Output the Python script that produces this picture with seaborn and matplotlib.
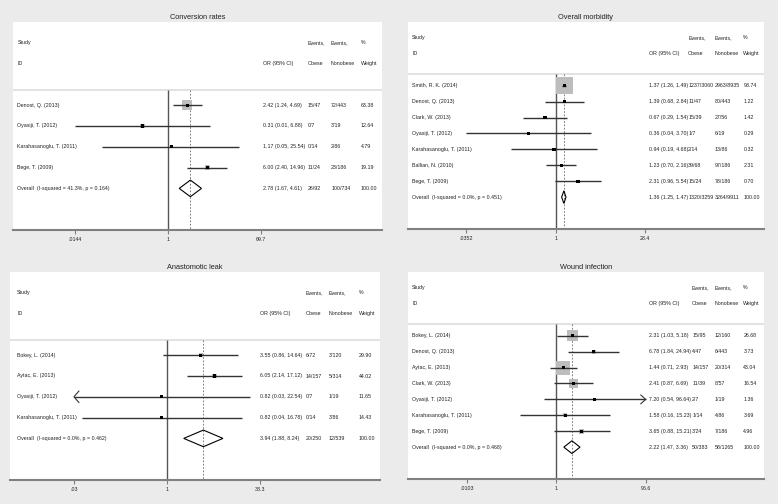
import numpy as np
import pandas as pd
import matplotlib.pyplot as plt
import seaborn as sns
from matplotlib.ticker import NullLocator

# Conversion rates
conv_study = ["Denost, Q. (2013)", "Oyasiji, T. (2012)", "Karahasanoglu, T. (2011)", "Bege, T. (2009)"]
conv_or = [2.42, 0.31, 1.17, 6.00]
conv_lo = [1.24, 0.0144, 0.05, 2.40]
conv_hi = [4.69, 6.88, 25.54, 14.96]
conv_obese = ["15/47", "0/7", "0/14", "11/24"]
conv_nonobese = ["72/443", "3/19", "2/86", "23/186"]
conv_weight = [63.38, 12.64, 4.79, 19.19]
conv_overall = [2.78, 1.67, 4.61]
conv_overall_events = ["26/92", "100/734"]
conv_het = "Overall  (I-squared = 41.3%, p = 0.164)"
conv_ticks = [0.0144, 1, 69.7]
conv_ticklabels = [".0144", "1", "69.7"]

# Overall morbidity
morb_study = ["Smith, R. K. (2014)", "Denost, Q. (2013)", "Clark, W. (2013)", "Oyasiji, T. (2012)",
              "Karahasanoglu, T. (2011)", "Ballian, N. (2010)", "Bege, T. (2009)"]
morb_or = [1.37, 1.39, 0.67, 0.36, 0.94, 1.23, 2.31]
morb_lo = [1.26, 0.68, 0.29, 0.0352, 0.19, 0.70, 0.96]
morb_hi = [1.49, 2.84, 1.54, 3.70, 4.68, 2.16, 5.54]
morb_obese = ["1237/3060", "11/47", "15/39", "1/7", "2/14", "39/68", "15/24"]
morb_nonobese = ["2963/8935", "80/443", "27/56", "6/19", "13/86", "97/186", "78/186"]
morb_weight = [93.74, 1.22, 1.42, 0.29, 0.32, 2.31, 0.70]
morb_overall = [1.36, 1.25, 1.47]
morb_overall_events = ["1320/3259", "3264/9911"]
morb_het = "Overall  (I-squared = 0.0%, p = 0.451)"
morb_ticks = [0.0352, 1, 28.4]
morb_ticklabels = [".0352", "1", "28.4"]

# Anastomotic leak
leak_study = ["Bokey, L. (2014)", "Aytac, E. (2013)", "Oyasiji, T. (2012)", "Karahasanoglu, T. (2011)"]
leak_or = [3.55, 6.05, 0.82, 0.82]
leak_lo = [0.86, 2.14, 0.0298, 0.04]
leak_hi = [14.64, 17.12, 22.54, 16.78]
leak_obese = ["6/72", "14/157", "0/7", "0/14"]
leak_nonobese = ["3/120", "5/314", "1/19", "3/86"]
leak_weight = [29.90, 44.02, 11.65, 14.43]
leak_overall = [3.94, 1.88, 8.24]
leak_overall_events = ["20/250", "12/539"]
leak_het = "Overall  (I-squared = 0.0%, p = 0.462)"
leak_ticks = [0.03, 1, 33.3]
leak_ticklabels = [".03", "1", "33.3"]

# Wound infection
wound_study = ["Bokey, L. (2014)", "Denost, Q. (2013)", "Aytac, E. (2013)", "Clark, W. (2013)",
               "Oyasiji, T. (2012)", "Karahasanoglu, T. (2011)", "Bege, T. (2009)"]
wound_or = [2.31, 6.78, 1.44, 2.41, 7.20, 1.58, 3.65]
wound_lo = [1.03, 1.84, 0.71, 0.87, 0.54, 0.16, 0.88]
wound_hi = [5.18, 24.94, 2.93, 6.69, 96.64, 15.23, 15.21]
wound_obese = ["15/95", "4/47", "14/157", "11/39", "2/7", "1/14", "3/24"]
wound_nonobese = ["12/160", "6/443", "20/314", "8/57", "1/19", "4/86", "7/186"]
wound_weight = [26.68, 3.73, 43.04, 16.54, 1.36, 3.69, 4.96]
wound_overall = [2.22, 1.47, 3.36]
wound_overall_events = ["50/383", "58/1265"]
wound_het = "Overall  (I-squared = 0.0%, p = 0.468)"
wound_ticks = [0.0103, 1, 96.6]
wound_ticklabels = [".0103", "1", "96.6"]

sns.set_theme(style="white")
plt.rcParams['font.family'] = ['Liberation Sans', 'DejaVu Sans']

W, H = 778, 504
BG = "#ebebeb"
TXT = "#222222"
FS = 3.8

fig = plt.figure(figsize=(W / 100, H / 100), dpi=100, facecolor=BG)


def forest(box, title, study, or_, lo, hi, obese, nonobese, weight, overall, overall_events, het,
           ticks, ticklabels, px1, pxhi, box_scale, obese_x=0.798, study_x=0.012):
    x0, y0, x1, y1 = box
    ax = fig.add_axes([x0 / W, 1 - y1 / H, (x1 - x0) / W, (y1 - y0) / H])
    ax.set_facecolor("white")
    n = len(study)
    df = pd.DataFrame({"or": or_, "lo": lo, "hi": hi, "weight": weight, "row": np.arange(n)})

    # log axis, pixel positions of 1 and the upper tick fix the scale
    scale = (pxhi - px1) / np.log(ticks[2])
    ax.set_xscale("log")
    ax.set_xlim(np.exp((x0 - px1) / scale), np.exp((x1 - px1) / scale))
    ax.set_ylim(n + 2, -4)

    for s in ["top", "left", "right"]:
        ax.spines[s].set_visible(False)
    ax.spines["bottom"].set_color("#808080")
    ax.spines["bottom"].set_linewidth(1.5)
    ax.set_xticks(ticks)
    ax.set_xticklabels(ticklabels)
    ax.xaxis.set_minor_locator(NullLocator())
    ax.set_yticks([])
    ax.tick_params(axis="x", length=3, width=0.8, color="#808080", labelsize=FS,
                   labelcolor=TXT, pad=2, bottom=True)
    ax.set_xlabel("")
    ax.set_ylabel("")

    ax.axhline(-0.75, color="#dddddd", lw=1.2)
    ax.vlines(1, -0.75, n + 2, color="#555555", lw=1)
    ax.vlines(overall[0], -0.75, n + 2, color="#666666", lw=0.6, linestyles=(0, (2, 2)))

    # weight boxes
    sizes = (box_scale * np.sqrt(df["weight"]) * 0.72) ** 2
    sns.scatterplot(data=df, x="or", y="row", s=sizes.values, marker="s", color="#bdbdbd",
                    edgecolor="none", ax=ax, legend=False, zorder=2)

    # CIs, clipped at tick range with open arrows
    lo_c = df["lo"].clip(lower=ticks[0])
    hi_c = df["hi"].clip(upper=ticks[2])
    ax.hlines(df["row"], lo_c, hi_c, color="#333333", lw=1, zorder=3)
    alen = np.exp(5 / scale)
    for r, l, h in zip(df["row"], df["lo"], df["hi"]):
        if l < ticks[0]:
            ax.plot([ticks[0] * alen, ticks[0], ticks[0] * alen], [r - 0.28, r, r + 0.28],
                    color="#333333", lw=0.8, zorder=3)
        if h > ticks[2]:
            ax.plot([ticks[2] / alen, ticks[2], ticks[2] / alen], [r - 0.28, r, r + 0.28],
                    color="#333333", lw=0.8, zorder=3)

    sns.scatterplot(data=df, x="or", y="row", s=5, marker="s", color="black",
                    edgecolor="none", ax=ax, legend=False, zorder=4)

    # pooled diamond
    est, olo, ohi = overall
    ax.fill([olo, est, ohi, est], [n, n - 0.4, n, n + 0.4], facecolor="none",
            edgecolor="black", lw=0.8, zorder=3)
    ax.set_xlabel("")
    ax.set_ylabel("")

    tr = ax.get_yaxis_transform()
    or_x, non_x, wt_x = 0.677, 0.862, 0.942
    kw = dict(transform=tr, fontsize=FS, color=TXT, va="center", ha="left")
    ax.text(study_x, -3, "Study", **kw)
    ax.text(study_x, -2, "ID", **kw)
    ax.text(or_x, -2, "OR (95% CI)", **kw)
    ax.text(obese_x, -3, "Events,", **kw)
    ax.text(obese_x, -2, "Obese", **kw)
    ax.text(non_x, -3, "Events,", **kw)
    ax.text(non_x, -2, "Nonobese", **kw)
    ax.text(wt_x, -3, "%", **kw)
    ax.text(wt_x, -2, "Weight", **kw)
    for i in range(n):
        ax.text(study_x, i, study[i], **kw)
        ax.text(or_x, i, f"{or_[i]:.2f} ({lo[i]:.2f}, {hi[i]:.2f})", **kw)
        ax.text(obese_x, i, obese[i], **kw)
        ax.text(non_x, i, nonobese[i], **kw)
        ax.text(wt_x, i, f"{weight[i]:.2f}", **kw)
    ax.text(study_x, n, het, **kw)
    ax.text(or_x, n, f"{est:.2f} ({olo:.2f}, {ohi:.2f})", **kw)
    ax.text(obese_x, n, overall_events[0], **kw)
    ax.text(non_x, n, overall_events[1], **kw)
    ax.text(wt_x, n, "100.00", **kw)

    ax.set_title(title, fontsize=5.3, color=TXT, pad=2.5)
    return ax


forest((13, 22, 382, 230), "Conversion rates", conv_study, conv_or, conv_lo, conv_hi, conv_obese,
       conv_nonobese, conv_weight, conv_overall, conv_overall_events, conv_het,
       conv_ticks, conv_ticklabels, 168, 261, 1.26)
forest((408, 22, 764, 229), "Overall morbidity", morb_study, morb_or, morb_lo, morb_hi, morb_obese,
       morb_nonobese, morb_weight, morb_overall, morb_overall_events, morb_het,
       morb_ticks, morb_ticklabels, 555.7, 645, 1.75, obese_x=0.787)
forest((10, 272, 380, 480), "Anastomotic leak", leak_study, leak_or, leak_lo, leak_hi, leak_obese,
       leak_nonobese, leak_weight, leak_overall, leak_overall_events, leak_het,
       leak_ticks, leak_ticklabels, 167, 260, 0.72, study_x=0.019)
forest((408, 272, 764, 479), "Wound infection", wound_study, wound_or, wound_lo, wound_hi, wound_obese,
       wound_nonobese, wound_weight, wound_overall, wound_overall_events, wound_het,
       wound_ticks, wound_ticklabels, 556.3, 645.7, 2.13)

fig.savefig("out.png", dpi=100, facecolor=BG)
